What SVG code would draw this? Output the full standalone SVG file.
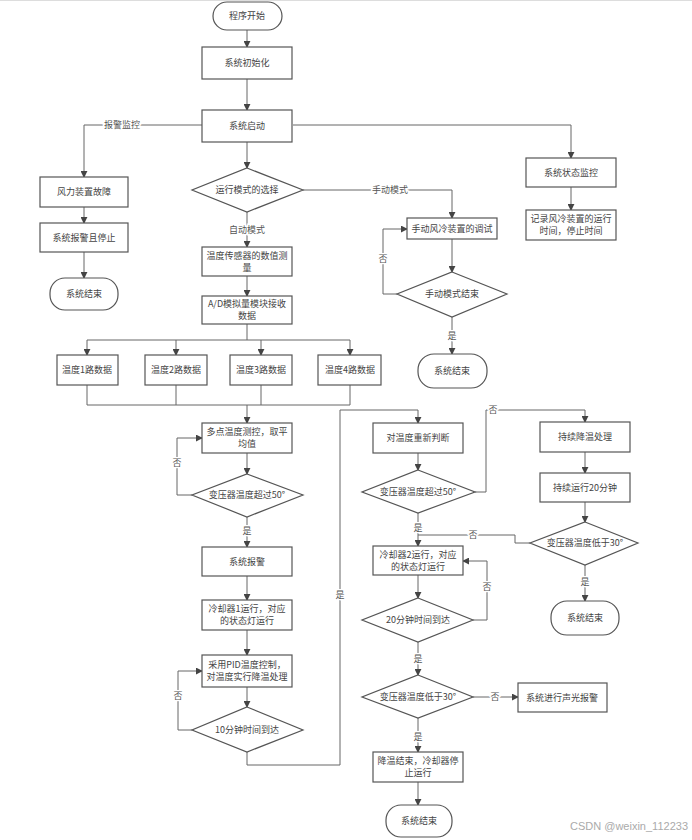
<svg xmlns="http://www.w3.org/2000/svg" width="692" height="840" viewBox="0 0 692 840">
<style>
.n rect, .n polygon { fill: #fff; stroke: #555; stroke-width: 1.2; }
.n text { font-family: "Noto Sans CJK SC", "Liberation Sans", sans-serif; font-size: 9px; fill: #444; text-anchor: middle; }
#connectors path { fill: none; stroke: #666; stroke-width: 1; }
#connectors .a { marker-end: url(#arr); }
.lbl { font-family: "Noto Sans CJK SC", "Liberation Sans", sans-serif; font-size: 9px; fill: #555; text-anchor: middle; stroke: #fff; stroke-width: 3; paint-order: stroke; }
</style>
<defs>
<marker id="arr" viewBox="0 0 8 8" refX="7" refY="4" markerWidth="7" markerHeight="7" markerUnits="userSpaceOnUse" orient="auto">
<path d="M0,0 L8,4 L0,8 z" fill="#444"/>
</marker>
</defs>
<rect x="0" y="0" width="692" height="840" fill="#fff"/>
<line x1="0" y1="0.5" x2="692" y2="0.5" stroke="#ddd"/>

<g id="connectors">
<path class="a" d="M247,30 V47"/>
<path class="a" d="M247,79 V110"/>
<path class="a" d="M247,142 V168"/>
<path class="a" d="M202,125 H84 V177"/>
<path class="a" d="M84,207 V223"/>
<path class="a" d="M84,252 V278"/>
<path class="a" d="M293,125 H571 V158"/>
<path class="a" d="M571,187 V210"/>
<path class="a" d="M303,190 H452 V218"/>
<path class="a" d="M452,239 V272"/>
<path class="a" d="M397,294 H383 V229 H407"/>
<path class="a" d="M452,317 V354"/>
<path class="a" d="M247,212 V247"/>
<path class="a" d="M247,276 V296"/>
<path d="M247,324 V340"/>
<path class="a" d="M247,340 H87 V355"/>
<path class="a" d="M247,340 H350 V355"/>
<path class="a" d="M176,340 V355"/>
<path class="a" d="M261,340 V355"/>
<path d="M87,385 V405 H350 V385"/>
<path d="M176,385 V405"/>
<path d="M261,385 V405"/>
<path class="a" d="M247,405 V423"/>
<path class="a" d="M247,453 V474"/>
<path class="a" d="M192,495 H177 V438 H202"/>
<path class="a" d="M247,517 V547"/>
<path class="a" d="M247,576 V600"/>
<path class="a" d="M247,630 V655"/>
<path class="a" d="M247,687 V707"/>
<path class="a" d="M192,730 H178 V671 H202"/>
<path class="a" d="M247,752 V765 H340 V410 H418 V423"/>
<path class="a" d="M418,453 V470"/>
<path class="a" d="M475,492 H486 V410 H585 V422"/>
<path class="a" d="M585,452 V473"/>
<path class="a" d="M585,502 V522"/>
<path class="a" d="M585,565 V601"/>
<path class="a" d="M418,513 V546"/>
<path d="M530,543 H515 V535 H418"/>
<path class="a" d="M418,575 V598"/>
<path class="a" d="M473,620 H487 V561 H463"/>
<path class="a" d="M418,642 V675"/>
<path class="a" d="M473,697 H518"/>
<path class="a" d="M418,718 V752"/>
<path class="a" d="M418,782 V805"/>
</g>

<g id="labels">
<text class="lbl" x="122" y="128">报警监控</text>
<text class="lbl" x="390" y="193">手动模式</text>
<text class="lbl" x="383" y="262">否</text>
<text class="lbl" x="452" y="339">是</text>
<text class="lbl" x="247" y="233">自动模式</text>
<text class="lbl" x="177" y="466">否</text>
<text class="lbl" x="247" y="534">是</text>
<text class="lbl" x="178" y="699">否</text>
<text class="lbl" x="340" y="598">是</text>
<text class="lbl" x="493" y="413">否</text>
<text class="lbl" x="585" y="585">是</text>
<text class="lbl" x="418" y="531">是</text>
<text class="lbl" x="473" y="538">否</text>
<text class="lbl" x="487" y="590">否</text>
<text class="lbl" x="418" y="662">是</text>
<text class="lbl" x="495" y="700">否</text>
<text class="lbl" x="418" y="740">是</text>
</g>

<g id="start" class="n"><rect x="213" y="2" width="69" height="28" rx="14"/><text x="247" y="19">程序开始</text></g>
<g id="init" class="n"><rect x="202" y="47" width="90" height="32"/><text x="247" y="66">系统初始化</text></g>
<g id="boot" class="n"><rect x="202" y="110" width="90" height="32"/><text x="247" y="129">系统启动</text></g>
<g id="fault" class="n"><rect x="40" y="177" width="88" height="30"/><text x="84" y="195">风力装置故障</text></g>
<g id="alarmstop" class="n"><rect x="40" y="223" width="88" height="29"/><text x="84" y="241">系统报警且停止</text></g>
<g id="end1" class="n"><rect x="50" y="278" width="68" height="32" rx="15"/><text x="84" y="297">系统结束</text></g>
<g id="monitor" class="n"><rect x="526" y="158" width="90" height="29"/><text x="571" y="176">系统状态监控</text></g>
<g id="record" class="n"><rect x="526" y="210" width="90" height="30"/><text x="571" y="222">记录风冷装置的运行</text><text x="571" y="234">时间，停止时间</text></g>
<g id="mode" class="n"><polygon points="247,168 303,190 247,212 192,190"/><text x="247" y="193">运行模式的选择</text></g>
<g id="manual" class="n"><rect x="407" y="218" width="90" height="21"/><text x="452" y="232">手动风冷装置的调试</text></g>
<g id="manualend" class="n"><polygon points="452,272 507,294 452,317 397,294"/><text x="452" y="297">手动模式结束</text></g>
<g id="end2" class="n"><rect x="418" y="354" width="69" height="34" rx="16"/><text x="452" y="374">系统结束</text></g>
<g id="sensor" class="n"><rect x="202" y="247" width="90" height="29"/><text x="247" y="259">温度传感器的数值测</text><text x="247" y="271">量</text></g>
<g id="ad" class="n"><rect x="202" y="296" width="90" height="28"/><text x="247" y="307">A/D模拟量模块接收</text><text x="247" y="319">数据</text></g>
<g id="ch1" class="n"><rect x="57" y="355" width="61" height="30"/><text x="87" y="373">温度1路数据</text></g>
<g id="ch2" class="n"><rect x="145" y="355" width="62" height="30"/><text x="176" y="373">温度2路数据</text></g>
<g id="ch3" class="n"><rect x="230" y="355" width="62" height="30"/><text x="261" y="373">温度3路数据</text></g>
<g id="ch4" class="n"><rect x="318" y="355" width="63" height="30"/><text x="350" y="373">温度4路数据</text></g>
<g id="avg" class="n"><rect x="202" y="423" width="90" height="30"/><text x="247" y="435">多点温度测控，取平</text><text x="247" y="447">均值</text></g>
<g id="d50a" class="n"><polygon points="247,474 303,495 247,517 192,495"/><text x="247" y="498">变压器温度超过50°</text></g>
<g id="alarm" class="n"><rect x="202" y="547" width="90" height="29"/><text x="247" y="565">系统报警</text></g>
<g id="cooler1" class="n"><rect x="202" y="600" width="90" height="30"/><text x="247" y="612">冷却器1运行，对应</text><text x="247" y="624">的状态灯运行</text></g>
<g id="pid" class="n"><rect x="202" y="655" width="90" height="32"/><text x="247" y="668">采用PID温度控制，</text><text x="247" y="680">对温度实行降温处理</text></g>
<g id="d10" class="n"><polygon points="247,707 303,730 247,752 192,730"/><text x="247" y="733">10分钟时间到达</text></g>
<g id="recheck" class="n"><rect x="373" y="423" width="90" height="30"/><text x="418" y="441">对温度重新判断</text></g>
<g id="d50b" class="n"><polygon points="418,470 475,492 418,513 362,492"/><text x="418" y="495">变压器温度超过50°</text></g>
<g id="keep" class="n"><rect x="540" y="422" width="90" height="30"/><text x="585" y="440">持续降温处理</text></g>
<g id="run20" class="n"><rect x="540" y="473" width="90" height="29"/><text x="585" y="491">持续运行20分钟</text></g>
<g id="d30a" class="n"><polygon points="585,522 638,543 585,565 530,543"/><text x="585" y="546">变压器温度低于30°</text></g>
<g id="end3" class="n"><rect x="551" y="601" width="68" height="34" rx="16"/><text x="585" y="621">系统结束</text></g>
<g id="cooler2" class="n"><rect x="373" y="546" width="90" height="29"/><text x="418" y="558">冷却器2运行，对应</text><text x="418" y="570">的状态灯运行</text></g>
<g id="d20" class="n"><polygon points="418,598 473,620 418,642 362,620"/><text x="418" y="623">20分钟时间到达</text></g>
<g id="d30b" class="n"><polygon points="418,675 473,697 418,718 362,697"/><text x="418" y="700">变压器温度低于30°</text></g>
<g id="alarm2" class="n"><rect x="518" y="683" width="89" height="29"/><text x="562" y="701">系统进行声光报警</text></g>
<g id="cooldown" class="n"><rect x="373" y="752" width="90" height="30"/><text x="418" y="764">降温结束，冷却器停</text><text x="418" y="776">止运行</text></g>
<g id="end4" class="n"><rect x="386" y="805" width="66" height="32" rx="15"/><text x="419" y="824">系统结束</text></g>

<text x="688" y="830" font-family="Liberation Sans, sans-serif" font-size="11" fill="#aaa" text-anchor="end">CSDN @weixin_112233</text>
</svg>
